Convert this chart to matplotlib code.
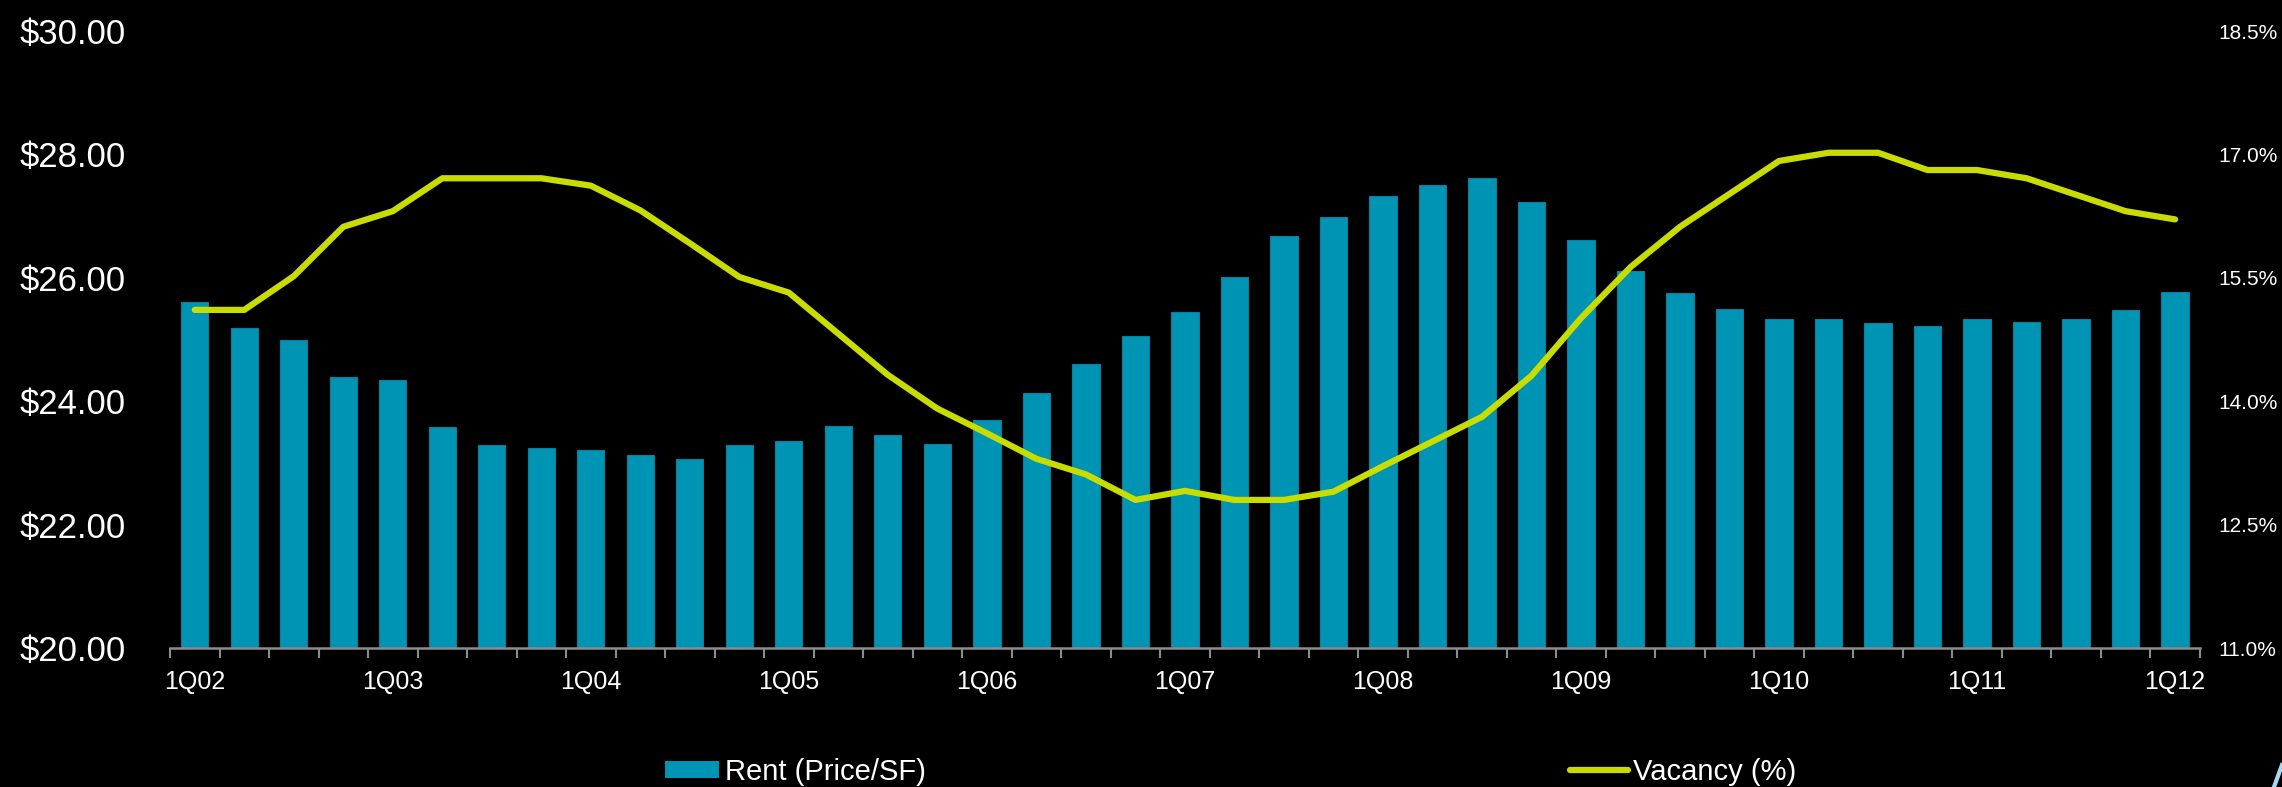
import numpy as np
import matplotlib.pyplot as plt
from matplotlib.patches import Patch
from matplotlib.lines import Line2D

plt.rcParams['font.family'] = ['Liberation Sans', 'DejaVu Sans']

# Quarterly rent ($/SF) and vacancy (%), 1Q02 .. 1Q12
rent = [25.61, 25.19, 25.00, 24.39, 24.35, 23.58, 23.29, 23.24, 23.21, 23.13,
        23.07, 23.29, 23.36, 23.60, 23.46, 23.31, 23.69, 24.13, 24.61, 25.06,
        25.44, 26.01, 26.68, 26.99, 27.32, 27.51, 27.62, 27.23, 26.62, 26.11,
        25.75, 25.49, 25.33, 25.34, 25.27, 25.22, 25.33, 25.29, 25.34, 25.48,
        25.77]
vacancy = [15.11, 15.11, 15.52, 16.12, 16.31, 16.71, 16.71, 16.71, 16.62, 16.32,
           15.92, 15.51, 15.32, 14.82, 14.32, 13.91, 13.61, 13.30, 13.11, 12.80,
           12.91, 12.80, 12.80, 12.90, 13.21, 13.51, 13.81, 14.31, 15.01, 15.63,
           16.12, 16.52, 16.92, 17.02, 17.02, 16.81, 16.81, 16.71, 16.51, 16.31,
           16.21]
tick_labels = ['1Q02', '1Q03', '1Q04', '1Q05', '1Q06', '1Q07', '1Q08',
               '1Q09', '1Q10', '1Q11', '1Q12']

bar_color = '#0094B4'
line_color = '#C8DC00'
axis_gray = '#8C8C8C'

x = np.arange(len(rent))

fig = plt.figure(figsize=(22.82, 7.87), dpi=100, facecolor='black')
ax = fig.add_axes([0.0745, 0.1766, 0.8895, 0.784])
ax.set_facecolor('black')

# rent bars on the left axis
ax.bar(x, rent, width=0.55, color=bar_color, edgecolor='#0B7F9B', linewidth=0.8)
ax.set_xlim(-0.5, len(rent) - 0.5)
ax.set_ylim(20, 30)
ax.set_yticks(np.arange(20, 31, 2))
ax.set_yticklabels(['$%.2f' % v for v in np.arange(20, 31, 2)])
ax.tick_params(axis='y', length=0, pad=32, labelsize=25, labelcolor='white')

ax.set_xticks(x[::4])
ax.set_xticklabels(tick_labels)
ax.set_xticks(np.arange(-0.5, len(rent), 1), minor=True)
ax.tick_params(axis='x', which='major', length=0, pad=16, labelsize=18, labelcolor='white')
ax.tick_params(axis='x', which='minor', length=7, width=1.5, color=axis_gray, direction='out')

for s in ['left', 'right', 'top']:
    ax.spines[s].set_visible(False)
ax.spines['bottom'].set_color(axis_gray)
ax.spines['bottom'].set_linewidth(1.8)

# vacancy line on the right axis
ax2 = ax.twinx()
ax2.plot(x, vacancy, color=line_color, lw=4.5, solid_capstyle='round')
ax2.set_ylim(11, 18.5)
ax2.set_yticks(np.arange(11, 18.6, 1.5))
ax2.set_yticklabels(['%.1f%%' % v for v in np.arange(11, 18.6, 1.5)])
ax2.tick_params(axis='y', length=0, pad=13, labelsize=15, labelcolor='white')
for s in ax2.spines.values():
    s.set_visible(False)

# legends sit far apart at the bottom
leg1 = fig.legend(handles=[Patch(facecolor=bar_color, edgecolor='none', label='Rent (Price/SF)')],
                  loc='center left', bbox_to_anchor=(665 / 2282, 1 - 772 / 787),
                  frameon=False, fontsize=21, labelcolor='white', borderpad=0,
                  borderaxespad=0, handlelength=1.85, handleheight=0.55, handletextpad=0.2)
leg2 = fig.legend(handles=[Line2D([], [], color=line_color, lw=4.5, solid_capstyle='round',
                                  label='Vacancy (%)')],
                  loc='center left', bbox_to_anchor=(1570 / 2282, 1 - 772 / 787),
                  frameon=False, fontsize=21, labelcolor='white', borderpad=0,
                  borderaxespad=0, handlelength=2.0, handletextpad=0.15)

# small decorative sliver in the bottom-right corner
fig.add_artist(Line2D([2282 / 2282, 2274 / 2282], [1 - 765 / 787, 0],
                      transform=fig.transFigure, color='#A8D8F5', lw=3))

fig.savefig('out.png', dpi=100, facecolor='black')
